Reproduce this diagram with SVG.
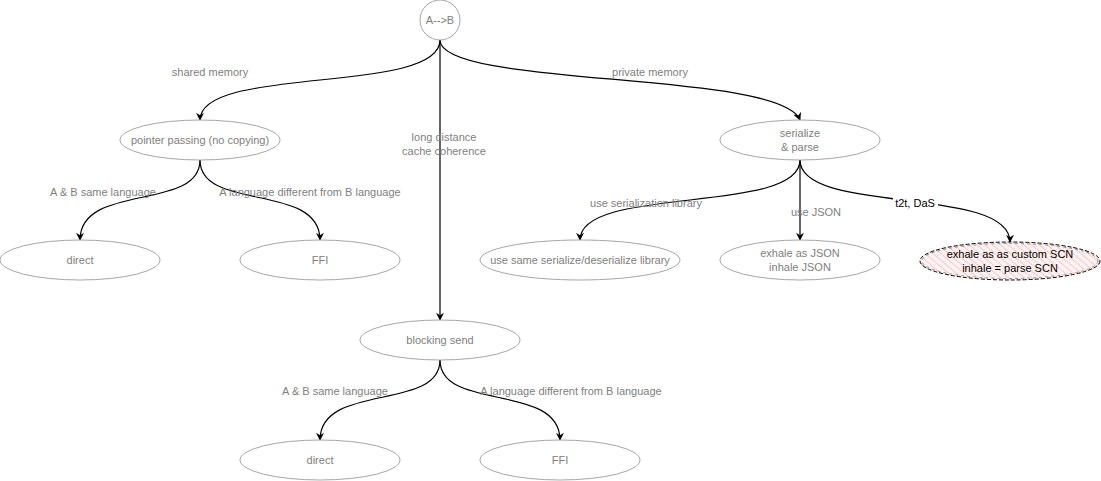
<svg xmlns="http://www.w3.org/2000/svg" width="1101" height="481" viewBox="0 0 1101 481">
<style>
.n{fill:#ffffff;stroke:#a6a6a6;stroke-width:1}
.t{font-family:"Liberation Sans",Arial,sans-serif;font-size:11px;fill:#808080;text-anchor:middle}
.e{fill:none;stroke:#000;stroke-width:1.2}
.k{fill:#000}
</style>
<defs>
<marker id="arr" viewBox="0 0 10 10" refX="9" refY="5" markerWidth="8" markerHeight="8" markerUnits="userSpaceOnUse" orient="auto">
<path d="M0,0 L10,5 L0,10 L3,5 z" fill="#000"/>
</marker>
<pattern id="hatch" patternUnits="userSpaceOnUse" width="5" height="5" patternTransform="rotate(-50)">
<rect width="5" height="5" fill="#fdf3f3"/>
<line x1="0" y1="0" x2="0" y2="5" stroke="#f08a8a" stroke-width="0.8"/>
</pattern>
</defs>
<rect width="1101" height="481" fill="#ffffff"/>
<g id="connectors">
<path class="e" d="M440 40 C440 95,200 65,200 120" marker-end="url(#arr)"/>
<path class="e" d="M440 40 C440 88,780 70,800 120" marker-end="url(#arr)"/>
<path class="e" d="M440 40 L440 320" marker-end="url(#arr)"/>
<path class="e" d="M200 160 C200 212,80 182,80 240" marker-end="url(#arr)"/>
<path class="e" d="M200 160 C200 212,320 182,320 240" marker-end="url(#arr)"/>
<path class="e" d="M800 160 C800 215,580 185,580 240" marker-end="url(#arr)"/>
<path class="e" d="M800 160 L800 240" marker-end="url(#arr)"/>
<path class="e" d="M800 160 C800 215,1010 185,1010 242" marker-end="url(#arr)"/>
<path class="e" d="M440 360 C440 412,320 382,320 440" marker-end="url(#arr)"/>
<path class="e" d="M440 360 C440 412,560 382,560 440" marker-end="url(#arr)"/>
<rect x="893" y="196" width="45" height="13" fill="#fff"/>
<text class="t" x="210" y="76">shared memory</text>
<text class="t" x="650" y="76">private memory</text>
<text class="t" x="444" y="141">long distance</text>
<text class="t" x="444" y="155">cache coherence</text>
<text class="t" x="103" y="196">A &amp; B same language</text>
<text class="t" x="310" y="196">A language different from B language</text>
<text class="t" x="646" y="207">use serialization library</text>
<text class="t" x="816" y="216">use JSON</text>
<text class="t" x="915" y="207" style="fill:#000">t2t, DaS</text>
<text class="t" x="335" y="395">A &amp; B same language</text>
<text class="t" x="571" y="395">A language different from B language</text>
</g>
<g id="root"><circle class="n" cx="440" cy="20" r="20"/><text class="t" x="440" y="24">A--&gt;B</text></g>
<g id="pointer"><ellipse class="n" cx="200" cy="140" rx="80" ry="20"/><text class="t" x="200" y="144">pointer passing (no copying)</text></g>
<g id="serialize"><ellipse class="n" cx="800" cy="140" rx="80" ry="20"/><text class="t" x="800" y="137">serialize</text><text class="t" x="800" y="151">&amp; parse</text></g>
<g id="direct1"><ellipse class="n" cx="80" cy="260" rx="80" ry="20"/><text class="t" x="80" y="264">direct</text></g>
<g id="ffi1"><ellipse class="n" cx="320" cy="260" rx="80" ry="20"/><text class="t" x="320" y="264">FFI</text></g>
<g id="samelib"><ellipse class="n" cx="580" cy="260" rx="100" ry="20"/><text class="t" x="580" y="264">use same serialize/deserialize library</text></g>
<g id="json"><ellipse class="n" cx="800" cy="260" rx="80" ry="20"/><text class="t" x="800" y="257">exhale as JSON</text><text class="t" x="800" y="271">inhale JSON</text></g>
<g id="scn"><ellipse cx="1010" cy="261" rx="90" ry="19" fill="url(#hatch)" stroke="#000" stroke-width="1" stroke-dasharray="4 2"/><ellipse cx="1010" cy="261" rx="88" ry="17.5" fill="none" stroke="#555" stroke-width="0.6" stroke-dasharray="3 3"/><text class="t" x="1010" y="258" style="fill:#000">exhale as as custom SCN</text><text class="t" x="1010" y="272" style="fill:#000">inhale = parse SCN</text></g>
<g id="blocking"><ellipse class="n" cx="440" cy="340" rx="80" ry="20"/><text class="t" x="440" y="344">blocking send</text></g>
<g id="direct2"><ellipse class="n" cx="320" cy="460" rx="80" ry="20"/><text class="t" x="320" y="464">direct</text></g>
<g id="ffi2"><ellipse class="n" cx="560" cy="460" rx="80" ry="20"/><text class="t" x="560" y="464">FFI</text></g>
</svg>
